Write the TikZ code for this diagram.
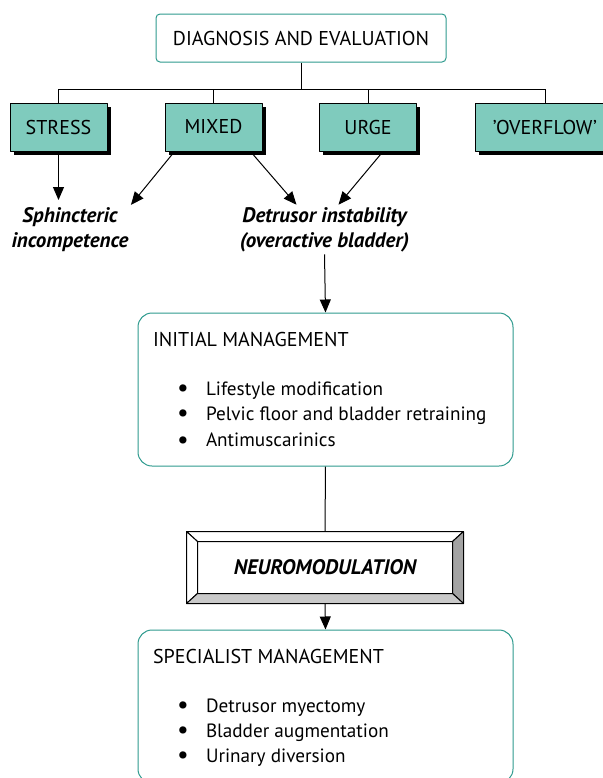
\documentclass[tikz,border=0pt]{standalone}
\usepackage{fontspec}
\setmainfont{PT Sans}
\usetikzlibrary{arrows.meta,shadows}

\definecolor{tealline}{HTML}{2E9A8E}
\definecolor{tealfill}{HTML}{7FCBBD}
\definecolor{bevelright}{HTML}{A3A3A3}
\definecolor{bevelbottom}{HTML}{C9C9C9}
\newcommand{\itembullet}{\makebox[14.5pt][l]{\raisebox{-0.7pt}{\scalebox{1.35}{\textbullet}}}}

\begin{document}
\begin{tikzpicture}[x=0.5pt,y=-0.5pt,line width=0.5pt,join=round,
    topbox/.style={draw=tealline,rounded corners=2pt,minimum width=145pt,minimum height=24pt,
      font=\fontsize{10}{12}\selectfont},
    typebox/.style={draw=black,fill=tealfill,minimum width=48.5pt,minimum height=24pt,
      font=\fontsize{10}{12}\selectfont,
      drop shadow={fill=black,opacity=1,shadow xshift=1.8pt,shadow yshift=-1.8pt}},
    cause/.style={align=center,inner sep=1pt,font=\fontsize{10.5}{12.5}\selectfont\bfseries\itshape},
    mgmt/.style={draw=tealline,rounded corners=7pt,minimum width=187.5pt,minimum height=76.5pt},
    mgmttitle/.style={anchor=west,inner sep=0pt,font=\fontsize{10}{12}\selectfont},
    item/.style={anchor=west,inner sep=0pt,font=\fontsize{9.6}{12}\selectfont},
    arr/.style={-{Triangle[width=5.5pt,length=6.5pt]}}]
  \clip (0,0) rectangle (603,778);

  % diagnosis and the four types
  \node[topbox] (diag) at (301,38) {DIAGNOSIS AND EVALUATION};
  \node[typebox] (stress) at (58.5,127) {STRESS};
  \node[typebox] (mixed) at (213.5,127) {MIXED};
  \node[typebox] (urge) at (368,127) {URGE};
  \node[typebox,minimum width=70pt] (overflow) at (545,127) {'OVERFLOW'};
  \coordinate (bus) at (0,89);
  \draw (diag.south) -- (diag.south |- bus);
  \draw (stress.north |- bus) -- (overflow.north |- bus);
  \foreach \b in {stress,mixed,urge,overflow}
    \draw (\b.north) -- (\b.north |- bus);

  % causes
  \node[cause] (sphinc) at (70,229.5) {Sphincteric\\incompetence};
  \node[cause] (detr) at (324.5,229.5) {Detrusor instability\\(overactive bladder)};
  \draw[arr] (stress.south) -- (stress.south |- 0,200);
  \draw[arr] ([xshift=5pt]mixed.south west) -- (sphinc.north east);
  \draw[arr] ([xshift=-6pt]mixed.south east) -- ([xshift=-14pt]detr.north);
  \draw[arr] ([xshift=7.5pt]urge.south) -- ([xshift=7pt]detr.north);

  % initial management
  \node[mgmt] (initial) at (325.5,389.5) {};
  \node[mgmttitle] (initialtitle) at ([xshift=7.5pt,yshift=-13.5pt]initial.north west) {INITIAL MANAGEMENT};
  \foreach \txt [count=\i] in {Lifestyle modification,Pelvic floor and bladder retraining,Antimuscarinics}
    \node[item] (initial\i) at ([xshift=19.5pt,yshift={-(39+12.5*(\i-1))*1pt}]initial.north west)
      {\itembullet\txt};
  \draw[arr] (detr.south) -- (initial.north);

  % neuromodulation
  \node[draw,minimum width=138pt,minimum height=35.5pt,font=\fontsize{10.5}{12}\selectfont\bfseries\itshape]
    (neuro) at (325,567.5) {NEUROMODULATION};
  \coordinate (inw) at ([xshift=5.5pt,yshift=-5pt]neuro.north west);
  \coordinate (ine) at ([xshift=-5.5pt,yshift=-5pt]neuro.north east);
  \coordinate (isw) at ([xshift=5.5pt,yshift=5pt]neuro.south west);
  \coordinate (ise) at ([xshift=-5.5pt,yshift=5pt]neuro.south east);
  \filldraw[fill=white] (neuro.north west) -- (neuro.north east) -- (ine) -- (inw) -- cycle;
  \filldraw[fill=white] (neuro.north west) -- (inw) -- (isw) -- (neuro.south west) -- cycle;
  \filldraw[fill=bevelright] (neuro.north east) -- (neuro.south east) -- (ise) -- (ine) -- cycle;
  \filldraw[fill=bevelbottom] (neuro.south west) -- (isw) -- (ise) -- (neuro.south east) -- cycle;
  \draw (initial.south) -- (neuro.north);

  % specialist management
  \node[mgmt] (special) at (325.5,706.5) {};
  \node[mgmttitle] (specialtitle) at ([xshift=7.5pt,yshift=-13.5pt]special.north west) {SPECIALIST MANAGEMENT};
  \foreach \txt [count=\i] in {Detrusor myectomy,Bladder augmentation,Urinary diversion}
    \node[item] (special\i) at ([xshift=19.5pt,yshift={-(39+12.5*(\i-1))*1pt}]special.north west)
      {\itembullet\txt};
  \draw[arr] (neuro.south) -- (special.north);
\end{tikzpicture}
\end{document}
